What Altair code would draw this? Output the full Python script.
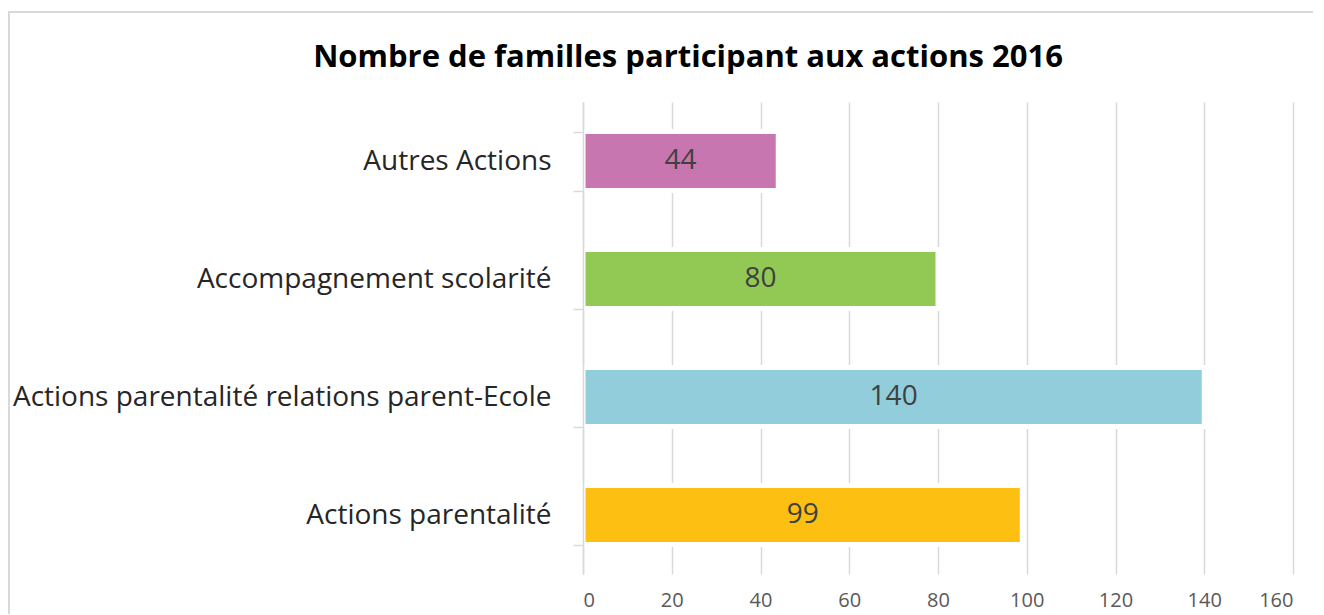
import altair as alt
import pandas as pd

categories = [
    "Autres Actions",
    "Accompagnement scolarité",
    "Actions parentalité relations parent-Ecole",
    "Actions parentalité",
]
values = [44, 80, 140, 99]
colors = ["#C876B0", "#92C954", "#92CDDC", "#FDBF12"]
x_ticks = [0, 20, 40, 60, 80, 100, 120, 140, 160]

df = pd.DataFrame({"cat": categories, "val": values})

FONT = "Open Sans"

y_enc = alt.Y(
    "cat:N",
    sort=categories,
    scale=alt.Scale(paddingInner=0.5, paddingOuter=0.25),
    axis=alt.Axis(
        title=None,
        labelFontSize=28,
        labelFont=FONT,
        labelColor="#262626",
        labelPadding=22,
        labelLimit=1000,
        domainColor="#D9D9D9",
        domainWidth=1.5,
        tickColor="#D9D9D9",
        tickWidth=1.5,
        tickSize=10,
        tickBand="extent",
        grid=False,
        zindex=1,
    ),
)

x_enc = alt.X(
    "val:Q",
    scale=alt.Scale(domain=[0, 160], nice=False),
    axis=alt.Axis(
        title=None,
        values=x_ticks,
        labelFontSize=20,
        labelFont=FONT,
        labelColor="#595959",
        labelPadding=16,
        domain=False,
        ticks=False,
        grid=True,
        gridColor="#D9D9D9",
        gridWidth=1.5,
    ),
)

bars = alt.Chart(df).mark_bar(stroke="white", strokeWidth=5).encode(
    x=x_enc,
    y=y_enc,
    color=alt.Color("cat:N", scale=alt.Scale(domain=categories, range=colors), legend=None),
)

labels = alt.Chart(df).transform_calculate(mid="datum.val / 2").mark_text(
    font=FONT, fontSize=28, color="#404040", align="center", baseline="middle"
).encode(
    x=alt.X("mid:Q"),
    y=alt.Y("cat:N", sort=categories),
    text=alt.Text("val:Q"),
)

frame = alt.Chart(pd.DataFrame({"a": [0]})).mark_rect(
    fill="transparent", stroke="#D9D9D9", strokeWidth=2
).encode(
    x=alt.value(-574), x2=alt.value(780), y=alt.value(-90), y2=alt.value(540)
)

chart = alt.layer(frame, bars, labels).properties(
    width=710,
    height=472,
    padding={"left": 575, "top": 94, "right": 20, "bottom": 40},
    autosize=alt.AutoSizeParams(type="none"),
    title=alt.TitleParams(
        "Nombre de familles participant aux actions 2016",
        font=FONT,
        fontSize=31,
        fontWeight="bold",
        color="#000000",
        anchor="middle",
        frame="group",
        dx=-250,
        offset=-63,
    ),
).configure_view(stroke=None)

chart.save("out.html", embed_options={"renderer": "svg", "actions": False})
